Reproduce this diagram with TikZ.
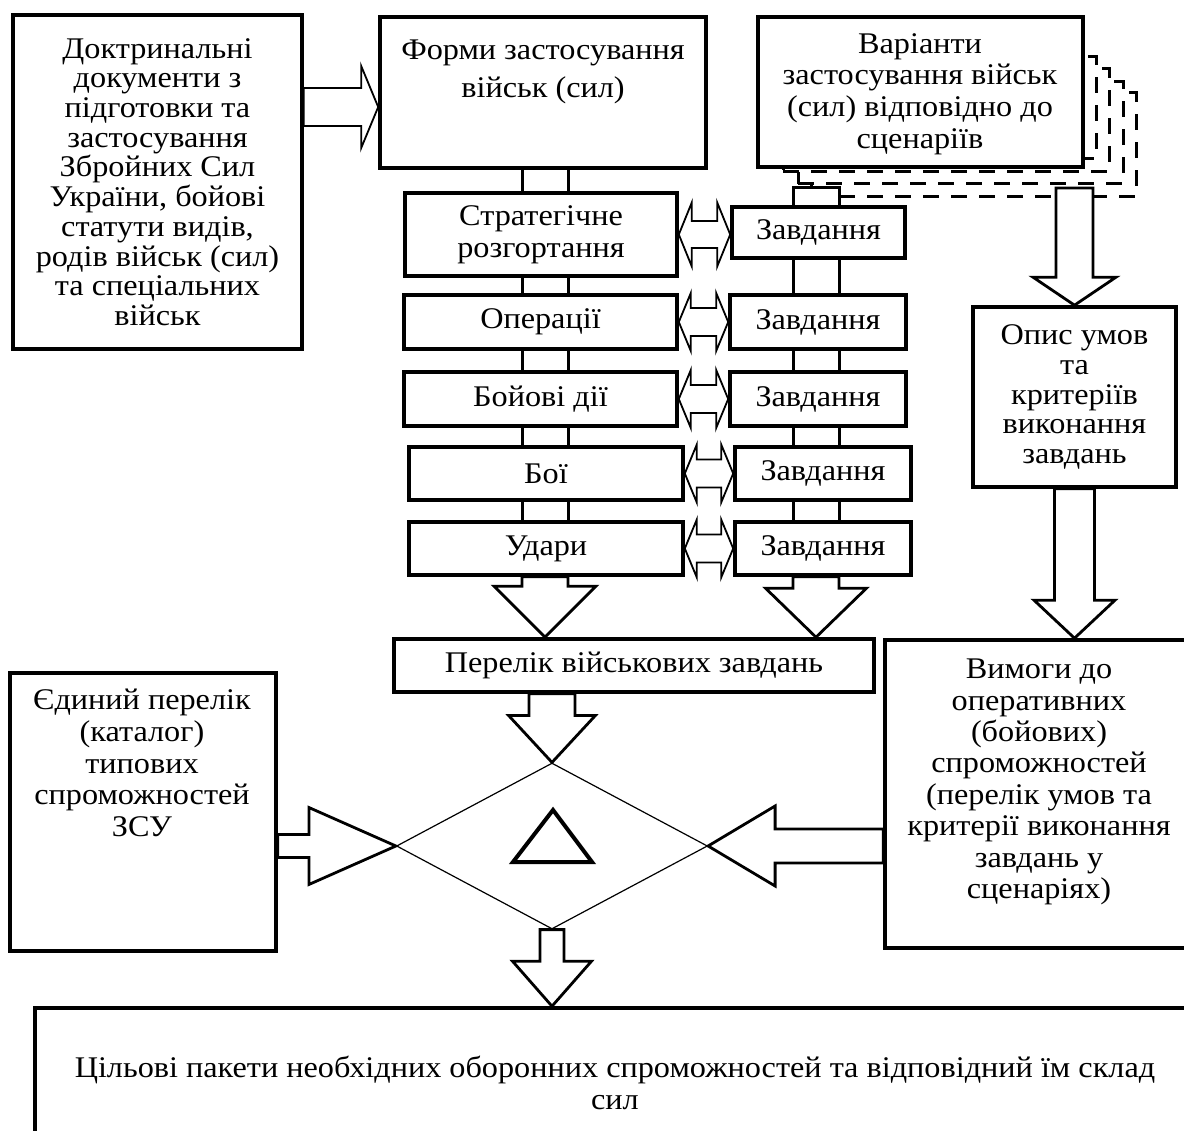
\documentclass[tikz,border=0pt]{standalone}
\usepackage{fontspec}
\setmainfont{Liberation Serif}[FakeStretch=1.075]
\usetikzlibrary{calc,shapes.geometric}
\newcommand\fsz{\fontsize{30}{31.7}\selectfont}
\newcommand\fsn{\fontsize{30}{29.7}\selectfont}
\newcommand\bx[7][]{\node[box,#1,minimum width={#4-#2},minimum height={#5-#3}] (#6) at ({(#2+#4)/2},{(#3+#5)/2}) {#7};}
% vertical block arrow: style, tail, tip, shaft half, head half, head length
\newcommand\varrow[6]{%
  \path[#1] let \p1=(#2), \p2=(#3), \n1={ifthenelse(\y2<\y1,1,-1)} in
    ({\x2-#4pt},\y1) -- ({\x2-#4pt},{\y2+(\n1)*#6pt}) -- ({\x2-#5pt},{\y2+(\n1)*#6pt}) -- (\x2,\y2)
    -- ({\x2+#5pt},{\y2+(\n1)*#6pt}) -- ({\x2+#4pt},{\y2+(\n1)*#6pt}) -- ({\x2+#4pt},\y1) -- cycle;}
% horizontal block arrow
\newcommand\harrow[6]{%
  \path[#1] let \p1=(#2), \p2=(#3), \n1={ifthenelse(\x2>\x1,1,-1)} in
    (\x1,{\y2+#4pt}) -- ({\x2-(\n1)*#6pt},{\y2+#4pt}) -- ({\x2-(\n1)*#6pt},{\y2+#5pt}) -- (\x2,\y2)
    -- ({\x2-(\n1)*#6pt},{\y2-#5pt}) -- ({\x2-(\n1)*#6pt},{\y2-#4pt}) -- (\x1,{\y2-#4pt}) -- cycle;}
% double headed horizontal block arrow
\newcommand\dharrow[6]{%
  \path[#1] let \p1=(#2), \p2=(#3) in
   (\x1,\y1) -- ({\x1+#6pt},{\y1+#5pt}) -- ({\x1+#6pt},{\y1+#4pt}) -- ({\x2-#6pt},{\y1+#4pt})
   -- ({\x2-#6pt},{\y1+#5pt}) -- (\x2,\y1) -- ({\x2-#6pt},{\y1-#5pt}) -- ({\x2-#6pt},{\y1-#4pt})
   -- ({\x1+#6pt},{\y1-#4pt}) -- ({\x1+#6pt},{\y1-#5pt}) -- cycle;}
\tikzset{
  box/.style={draw,line width=3.6pt,fill=white,inner sep=0pt,align=center,font=\fsz},
  txt/.style={inner sep=0pt,align=center,font=\fsz},
  dbox/.style={draw,line width=3pt,dash pattern=on 16pt off 12pt,fill=white,inner sep=0pt},
  pipe/.style={line width=3pt},
  thickarr/.style={draw,line width=2.8pt,fill=white,line join=miter},
  thinarr/.style={draw,line width=1.8pt,fill=white,line join=miter},
}
\begin{document}
\begin{tikzpicture}[x=1pt,y=-1pt]
\useasboundingbox[fill=white] (0,0) rectangle (1184,1131);
% dashed scenario copies
\bx[dbox]{811}{93}{1136}{197}{r4}{}
\bx[dbox]{798}{82}{1123}{184}{r3}{}
\bx[dbox]{783}{69}{1109}{172}{r2}{}
\bx[dbox]{770}{57}{1096}{159}{r1}{}
% boxes
\bx[font=\fsn]{13}{15}{302}{349}{doc}{Доктринальні\\документи з\\підготовки та\\застосування\\Збройних Сил\\України, бойові\\статути видів,\\родів військ (сил)\\та спеціальних\\військ}
\bx{380}{17}{706}{168}{forms}{}
\node[txt,font={\fontsize{30}{38}\selectfont}] (formsT) at (543,72) {Форми застосування\\військ (сил)};
\bx{758}{17}{1083}{167}{var}{}
\node[txt] (varT) at (920,94) {Варіанти\\застосування військ\\(сил) відповідно до\\сценаріїв};
\bx[font={\fontsize{30}{32}\selectfont}]{405}{193}{677}{276}{strat}{Стратегічне\\розгортання}
\bx{404}{295}{677}{349}{oper}{Операції}
\bx{404}{372}{677}{426}{boyd}{Бойові дії}
\bx{409}{447}{683}{500}{boi}{Бої}
\bx{409}{522}{683}{575}{udary}{Удари}
\bx{732}{207}{905}{258}{zav1}{Завдання}
\bx{730}{295}{906}{349}{zav2}{Завдання}
\bx{730}{372}{906}{426}{zav3}{Завдання}
\bx{735}{447}{911}{500}{zav4}{Завдання}
\bx{735}{522}{911}{575}{zav5}{Завдання}
\bx[font=\fsn]{973}{307}{1176}{487}{opys}{Опис умов\\та\\критеріїв\\виконання\\завдань}
\bx{394}{639}{874}{692}{perelik}{Перелік військових завдань}
\bx{10}{673}{276}{951}{edyn}{}
\node[txt] (edynT) at (142,763) {Єдиний перелік\\(каталог)\\типових\\спроможностей\\ЗСУ};
\bx{885}{640}{1193}{948}{vym}{}
\node[txt,font={\fontsize{30}{31.4}\selectfont}] (vymT) at (1039,782) {Вимоги до\\оперативних\\(бойових)\\спроможностей\\(перелік умов та\\критерії виконання\\завдань у\\сценаріях)};
\bx{35}{1008}{1195}{1150}{bot}{}
\node[txt,font={\fontsize{30}{32}\selectfont}] (botT) at (615,1083) {Цільові пакети необхідних оборонних спроможностей та відповідний їм склад\\сил};
% diamond
\node[draw,diamond,line width=1.2pt,inner sep=0pt,minimum width=311,minimum height=166] (dia) at (552,846) {};
\draw[line width=4pt,line join=miter] ($(dia.center)+(1,-36)$) -- ++(39,52) -- ++(-79,0) -- cycle;
% pipes
\coordinate (pl1) at (522,0); \coordinate (pl2) at (568,0);
\coordinate (pr1) at (793,0); \coordinate (pr2) at (839,0);
\coordinate (cL) at (545,0); \coordinate (cR) at (816,0);
\coordinate (rtop) at (0,188);
\foreach \a/\b in {forms/strat,strat/oper,oper/boyd,boyd/boi,boi/udary}{
  \draw[pipe] (pl1 |- \a.south) -- (pl1 |- \b.north);
  \draw[pipe] (pl2 |- \a.south) -- (pl2 |- \b.north);}
\foreach \a/\b in {zav1/zav2,zav2/zav3,zav3/zav4,zav4/zav5}{
  \draw[pipe] (pr1 |- \a.south) -- (pr1 |- \b.north);
  \draw[pipe] (pr2 |- \a.south) -- (pr2 |- \b.north);}
\filldraw[pipe,fill=white] (pr1 |- zav1.north) -- (pr1 |- rtop) -- (pr2 |- rtop) -- (pr2 |- zav1.north);
% arrows
\harrow{thinarr}{doc.east}{[yshift=-14.5pt]forms.west}{19}{41}{17}
\dharrow{thinarr}{strat.east}{zav1.west}{13.5}{32}{13}
\dharrow{thinarr}{oper.east}{zav2.west}{14}{29}{12}
\dharrow{thinarr}{boyd.east}{zav3.west}{14}{29}{12}
\dharrow{thinarr}{boi.east}{zav4.west}{14}{29}{12}
\dharrow{thinarr}{udary.east}{zav5.west}{14}{29}{12}
\varrow{thickarr}{udary.south}{cL |- perelik.north}{23}{51}{51}
\varrow{thickarr}{zav5.south}{cR |- perelik.north}{23}{50.5}{49}
\coordinate (vtail) at (1074.5,188);
\varrow{thickarr}{vtail}{opys.north}{18.5}{41.5}{28}
\varrow{thickarr}{opys.south}{opys.south |- vym.north}{20}{40.5}{38}
\varrow{thickarr}{perelik.south}{dia.north}{23}{43.5}{47}
\harrow{thickarr}{edyn.east}{dia.west}{11.5}{38.5}{87}
\harrow{thickarr}{vym.west}{dia.east}{17}{40}{67}
\varrow{thickarr}{dia.south}{dia.south |- bot.north}{12}{39.5}{45}
\end{tikzpicture}
\end{document}
